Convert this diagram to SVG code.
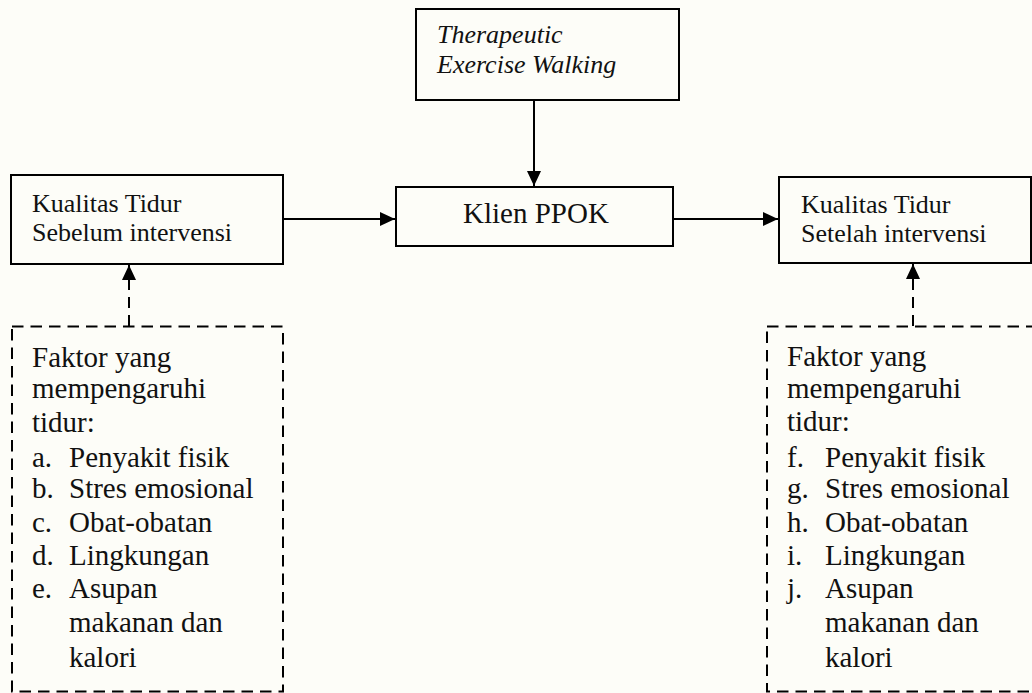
<svg xmlns="http://www.w3.org/2000/svg" width="1032" height="693" viewBox="0 0 1032 693">
<style>
.box{fill:none;stroke:#000;stroke-width:2}
.dbox{fill:none;stroke:#000;stroke-width:2;stroke-dasharray:11.5 7}
.t{font-family:"Liberation Serif","Times New Roman",serif;fill:#111}
.s26{font-size:26px}
.s29{font-size:29px}
.it{font-style:italic}
.conn{stroke:#000;stroke-width:2;fill:none}
.dconn{stroke:#000;stroke-width:2;fill:none;stroke-dasharray:11 7}
</style>
<defs>
<marker id="ah" viewBox="0 0 15 14" refX="15" refY="7" markerWidth="15" markerHeight="14" markerUnits="userSpaceOnUse" orient="auto">
<path d="M0,0 L15,7 L0,14 z" fill="#000"/>
</marker>
</defs>
<rect width="1032" height="693" fill="#fdfdf8"/>
<g id="node-therapeutic">
<rect class="box" x="416" y="9" width="263" height="91"/>
<text class="t s26 it" x="437" y="43">Therapeutic</text>
<text class="t s26 it" x="437" y="73">Exercise Walking</text>
</g>
<g id="node-klien">
<rect class="box" x="396" y="187" width="277" height="59"/>
<text class="t s29" x="463" y="223">Klien PPOK</text>
</g>
<g id="node-sebelum">
<rect class="box" x="11" y="175" width="272" height="89"/>
<text class="t s26" x="32" y="212">Kualitas Tidur</text>
<text class="t s26" x="32" y="241">Sebelum intervensi</text>
</g>
<g id="node-setelah">
<rect class="box" x="779" y="177" width="252" height="86"/>
<text class="t s26" x="801" y="213">Kualitas Tidur</text>
<text class="t s26" x="801" y="242">Setelah intervensi</text>
</g>
<g id="node-faktor-kiri">
<rect class="dbox" x="12" y="326.5" width="271" height="365"/>
<text class="t s29" x="32" y="367">Faktor yang</text>
<text class="t s29" x="32" y="398">mempengaruhi</text>
<text class="t s29" x="32" y="432">tidur:</text>
<text class="t s29" x="32" y="467">a.</text><text class="t s29" x="69" y="467">Penyakit fisik</text>
<text class="t s29" x="32" y="498">b.</text><text class="t s29" x="69" y="498">Stres emosional</text>
<text class="t s29" x="32" y="532">c.</text><text class="t s29" x="69" y="532">Obat-obatan</text>
<text class="t s29" x="32" y="565">d.</text><text class="t s29" x="69" y="565">Lingkungan</text>
<text class="t s29" x="32" y="598">e.</text><text class="t s29" x="69" y="598">Asupan</text>
<text class="t s29" x="69" y="632">makanan dan</text>
<text class="t s29" x="69" y="667">kalori</text>
</g>
<g id="node-faktor-kanan">
<rect class="dbox" x="767" y="326.5" width="300" height="365"/>
<text class="t s29" x="787" y="366">Faktor yang</text>
<text class="t s29" x="787" y="398">mempengaruhi</text>
<text class="t s29" x="787" y="431">tidur:</text>
<text class="t s29" x="787" y="467">f.</text><text class="t s29" x="825" y="467">Penyakit fisik</text>
<text class="t s29" x="787" y="498">g.</text><text class="t s29" x="825" y="498">Stres emosional</text>
<text class="t s29" x="787" y="532">h.</text><text class="t s29" x="825" y="532">Obat-obatan</text>
<text class="t s29" x="787" y="565">i.</text><text class="t s29" x="825" y="565">Lingkungan</text>
<text class="t s29" x="787" y="598">j.</text><text class="t s29" x="825" y="598">Asupan</text>
<text class="t s29" x="825" y="632">makanan dan</text>
<text class="t s29" x="825" y="667">kalori</text>
</g>
<g id="connectors">
<line class="conn" x1="534" y1="100" x2="534" y2="186" marker-end="url(#ah)"/>
<line class="conn" x1="283" y1="219" x2="395" y2="219" marker-end="url(#ah)"/>
<line class="conn" x1="673" y1="219" x2="778" y2="219" marker-end="url(#ah)"/>
<line class="dconn" x1="129" y1="326" x2="129" y2="265" marker-end="url(#ah)"/>
<line class="dconn" x1="913" y1="326" x2="913" y2="264" marker-end="url(#ah)"/>
</g>
</svg>
